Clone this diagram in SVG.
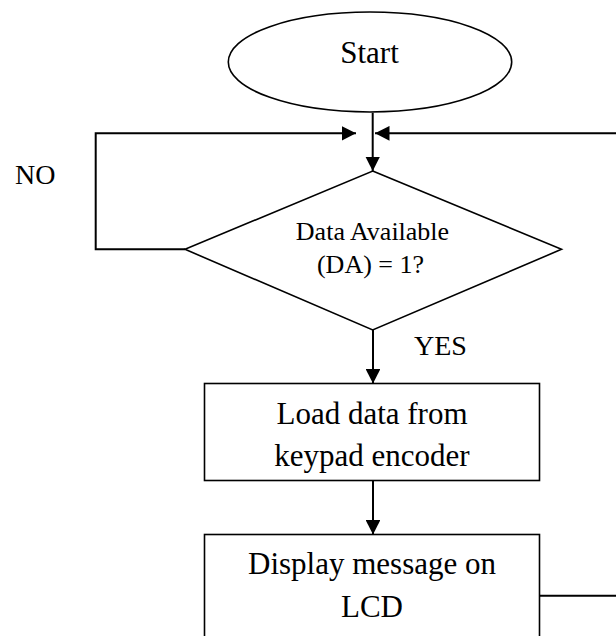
<svg xmlns="http://www.w3.org/2000/svg" width="616" height="636" viewBox="0 0 616 636">
  <style>
    .shape { fill: #ffffff; stroke: #000000; stroke-width: 1.6; }
    .wire { fill: none; stroke: #000000; stroke-width: 2; }
    .arrow { marker-end: url(#head); }
    text { font-family: "Liberation Serif", "Times New Roman", serif; fill: #000000; }
    .big { font-size: 31px; text-anchor: middle; }
    .mid { font-size: 26px; text-anchor: middle; }
    .lbl { font-size: 28px; }
  </style>
  <defs>
    <marker id="head" viewBox="0 0 14.5 14.7" refX="14.5" refY="7.35" markerWidth="14.5" markerHeight="14.7" markerUnits="userSpaceOnUse" orient="auto">
      <path d="M0,0 L14.5,7.35 L0,14.7 Z" fill="#000000"/>
    </marker>
  </defs>

  <g id="connectors">
    <!-- Start down to the decision -->
    <path class="wire arrow" d="M372.7,112.7 V171"/>
    <!-- NO branch loops back to the junction -->
    <path class="wire arrow" d="M185,249.3 H95.7 V133.3 H356"/>
    <!-- return from the display step, running past the right edge -->
    <path class="wire arrow" d="M539.5,595.7 H618 V133.3 H375"/>
    <!-- YES branch -->
    <path class="wire arrow" d="M373,330 V383.5"/>
    <!-- load to display -->
    <path class="wire arrow" d="M373,480.5 V534.5"/>
  </g>

  <g id="start">
    <ellipse class="shape" cx="370" cy="62" rx="141.7" ry="50"/>
    <text class="big" x="369.5" y="63.3">Start</text>
  </g>

  <g id="decision">
    <polygon class="shape" points="372.7,171 561.5,249.3 372.7,330 185,249.3"/>
    <text class="mid" x="372.5" y="240">Data Available</text>
    <text class="mid" x="370.5" y="273">(DA) = 1?</text>
  </g>

  <g id="no-label">
    <text class="lbl" x="15" y="184">NO</text>
  </g>

  <g id="yes-label">
    <text class="lbl" x="414" y="355">YES</text>
  </g>

  <g id="load">
    <rect class="shape" x="204.5" y="383.5" width="335" height="97"/>
    <text class="big" x="372" y="424">Load data from</text>
    <text class="big" x="372" y="465.5">keypad encoder</text>
  </g>

  <g id="display">
    <rect class="shape" x="204.5" y="534.5" width="335" height="120"/>
    <text class="big" x="372" y="574">Display message on</text>
    <text class="big" x="372" y="616.5">LCD</text>
  </g>
</svg>
